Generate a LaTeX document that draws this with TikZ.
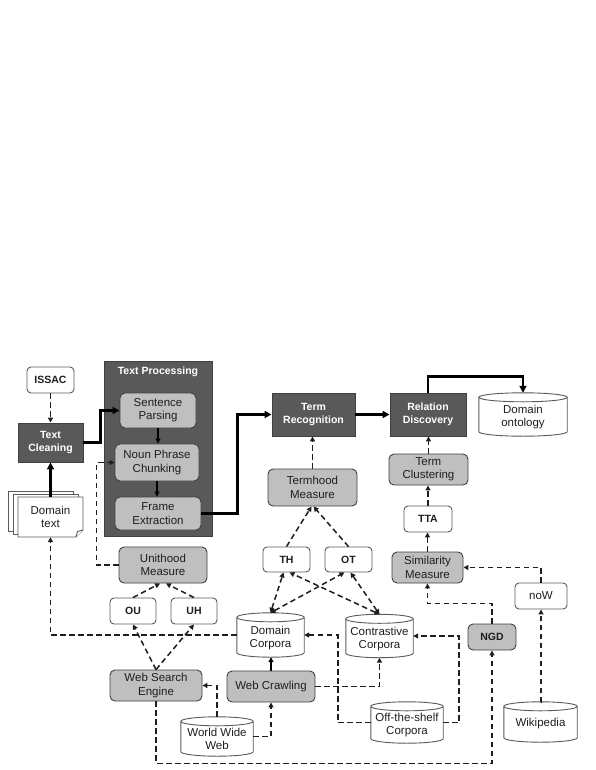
\documentclass[tikz,border=0pt]{standalone}
\usepackage{fontspec}
\setmainfont{Liberation Sans}
\usetikzlibrary{arrows.meta,backgrounds,calc}
\definecolor{darkbox}{HTML}{595959}
\definecolor{lightbox}{HTML}{BFBFBF}
\definecolor{edgec}{HTML}{404040}
\definecolor{wedge}{HTML}{5A5A5A}
\definecolor{lnc}{HTML}{1E1E1E}
\newcommand\drawcyl[1]{%
  \filldraw[cylsty] let \p1=(#1.north west), \p2=(#1.north east), \n1={(\x2-\x1)/2} in
    ([yshift=-4.5pt]#1.north west) -- ([yshift=4.5pt]#1.south west)
    arc[start angle=180,end angle=360,x radius=\n1,y radius=4.5pt]
    -- ([yshift=-4.5pt]#1.north east)
    arc[start angle=0,end angle=180,x radius=\n1,y radius=4.5pt] -- cycle;
  \draw[cylsty] let \p1=(#1.north west), \p2=(#1.north east), \n1={(\x2-\x1)/2} in
    ([yshift=-4.5pt]#1.north east)
    arc[start angle=0,end angle=-180,x radius=\n1,y radius=4.5pt];
}
\begin{document}
\begin{tikzpicture}[x=1pt,y=-1pt,
  base/.style={align=center, inner sep=1pt, font=\fontsize{11.5}{13.3}\selectfont, text=lnc},
  darkb/.style={base, draw=edgec, fill=darkbox, text=white, font=\bfseries\fontsize{10.5}{13}\selectfont, line width=0.9pt},
  greyb/.style={base, draw=edgec, fill=lightbox, rounded corners=5pt, line width=0.9pt},
  whiteb/.style={base, draw=wedge, fill=white, rounded corners=4pt, line width=0.9pt},
  shortb/.style={whiteb, font=\bfseries\fontsize{10.5}{13}\selectfont},
  cylshape/.style={inner sep=0pt},
  cyltext/.style={base},
  cylsty/.style={draw=wedge, fill=white, line width=0.9pt},
  pagesty/.style={draw=wedge, fill=white, line width=0.9pt},
  thk/.style={line width=2.5pt, draw=black, -{Triangle[length=7pt,width=7pt]}},
  thn/.style={line width=1.1pt, draw=black, -{Triangle[length=5pt,width=5pt]}},
  dsh/.style={line width=1.5pt, draw=lnc, dash pattern=on 5.5pt off 3.5pt, -{Triangle[length=5pt,width=5pt]}},
  dshb/.style={line width=1.5pt, draw=lnc, dash pattern=on 5.5pt off 3.5pt, {Triangle[length=5pt,width=5pt]}-{Triangle[length=5pt,width=5pt]}}
]
\useasboundingbox (0,0) rectangle (595,770);

% Text processing container
\node[draw=edgec, fill=darkbox, line width=0.9pt, minimum width=108pt, minimum height=175pt, inner sep=0pt] (tp) at (158,448.5) {};
\node[base, text=white, font=\bfseries\fontsize{10.5}{13}\selectfont] (tpt) at (158,372) {Text Processing};
\node[greyb, minimum width=76pt, minimum height=35pt] (sp) at (158,410.5) {Sentence\\Parsing};
\node[greyb, minimum width=84pt, minimum height=37pt] (npc) at (157,462.5) {Noun Phrase\\Chunking};
\node[greyb, minimum width=86pt, minimum height=33pt] (fe) at (158,513.5) {Frame\\Extraction};

% left column
\node[shortb, minimum width=47pt, minimum height=26pt] (issac) at (50.5,380) {ISSAC};
\node[darkb, minimum width=65pt, minimum height=39pt] (clean) at (50.5,442.5) {Text\\Cleaning};
\node[base, minimum width=65pt, minimum height=40pt] (dt) at (50.5,517) {Domain\\text};

% top row
\node[darkb, minimum width=83pt, minimum height=43pt] (tr) at (313.5,414.5) {Term\\Recognition};
\node[darkb, minimum width=76pt, minimum height=43pt] (rd) at (428,414.5) {Relation\\Discovery};
\node[cylshape, minimum width=88pt, minimum height=43pt] (onto) at (523,414.5) {};
\node[cyltext] (ontol) at (523,417) {Domain\\ontology};

% middle
\node[greyb, minimum width=89pt, minimum height=37pt] (tm) at (312.5,487.5) {Termhood\\Measure};
\node[greyb, minimum width=79pt, minimum height=31pt] (tc) at (428.5,469.5) {Term\\Clustering};
\node[shortb, minimum width=48pt, minimum height=26pt] (tta) at (428,519) {TTA};
\node[greyb, minimum width=71pt, minimum height=31pt] (sm) at (427.5,567.5) {Similarity\\Measure};
\node[whiteb, minimum width=52pt, minimum height=26pt] (now) at (541,596) {noW};
\node[greyb, font=\bfseries\fontsize{10.5}{13}\selectfont, minimum width=48pt, minimum height=26pt] (ngd) at (492,637) {NGD};
\node[shortb, minimum width=47pt, minimum height=25pt] (th) at (286.5,559.5) {TH};
\node[shortb, minimum width=47pt, minimum height=25pt] (ot) at (348.5,559.5) {OT};
\node[greyb, minimum width=88pt, minimum height=36pt] (um) at (163,565) {Unithood\\Measure};
\node[shortb, minimum width=46pt, minimum height=26pt] (ou) at (133,611) {OU};
\node[shortb, minimum width=46pt, minimum height=26pt] (uh) at (194,611) {UH};

% corpora and sources
\node[cylshape, minimum width=67pt, minimum height=44pt] (dc) at (270.5,635) {};
\node[cyltext] (dcl) at (270.5,638) {Domain\\Corpora};
\node[cylshape, minimum width=67pt, minimum height=43pt] (cc) at (379.5,636) {};
\node[cyltext] (ccl) at (379.5,639) {Contrastive\\Corpora};
\node[greyb, minimum width=92pt, minimum height=31pt] (wse) at (156,685.5) {Web Search\\Engine};
\node[greyb, minimum width=88pt, minimum height=31pt] (wc) at (271,686.5) {Web Crawling};
\node[cylshape, minimum width=72pt, minimum height=39pt] (www) at (217,736.5) {};
\node[cyltext] (wwwl) at (217,739) {World Wide\\Web};
\node[cylshape, minimum width=72pt, minimum height=41pt] (ots) at (407,722.5) {};
\node[cyltext] (otsl) at (407,725) {Off-the-shelf\\Corpora};
\node[cylshape, minimum width=73pt, minimum height=40pt] (wiki) at (540.5,722) {};
\node[cyltext] (wikil) at (540.5,724) {Wikipedia};

\begin{scope}[on background layer]
  \drawcyl{onto}
  \drawcyl{dc}
  \drawcyl{cc}
  \drawcyl{www}
  \drawcyl{ots}
  \drawcyl{wiki}
  % stacked document pages
  \filldraw[pagesty] (8,491) rectangle (73,531);
  \filldraw[pagesty] (13,494) rectangle (78,534);
  \filldraw[pagesty] (18,497) -- (83,497) -- (83,530) -- (76,537) -- (18,537) -- cycle;
  \draw[pagesty] (76,537) -- (77.5,531.5) -- (83,530);
\end{scope}

% solid connectors
\draw[thk] (dt.north) -- (clean.south);
\draw[thk] (clean.east) -- ++(17,0) |- (sp.west);
\draw[thn] (sp.south) -- (sp.south |- npc.north);
\draw[thn] (npc.south) -- (npc.south |- fe.north);
\draw[thk] (fe.east) -- ++(36,0) |- (tr.west);
\draw[thk] (tr.east) -- (rd.west);
\draw[thk] (rd.north) -- ++(0,-16) -| (onto.north);
\draw[thn] (wc.north) -- (wc.north |- dc.south);

% dashed connectors
\draw[dsh] (issac.south) -- (clean.north);
\draw[dsh] (dc.west) -| (dt.south);
\draw[dsh] (um.west) -- ++(-22,0) |- (npc.west);
\draw[dsh] (ou.north) -- ([xshift=-3pt]um.south);
\draw[dsh] (uh.north) -- ([xshift=3pt]um.south);
\draw[dsh] (wse.north) -- (ou.south);
\draw[dsh] (wse.north) -- (uh.south);
\draw[dsh] (www.north) |- (wse.east);
\draw[dsh] (www.east) -| (wc.south);
\draw[dsh] (wc.east) -| (cc.south);
\draw[dsh] (ots.west) -- ++(-33,0) |- (dc.east);
\draw[dsh] (ots.east) -- ++(16,0) |- (cc.east);
\draw[dshb] (dc.north) -- ([xshift=-3pt]th.south);
\draw[dshb] (dc.north) -- ([xshift=-4pt]ot.south);
\draw[dshb] (cc.north) -- ([xshift=3pt]th.south);
\draw[dshb] (cc.north) -- ([xshift=2pt]ot.south);
\draw[dsh] (th.north) -- ([xshift=-1pt]tm.south);
\draw[dsh] (ot.north) -- ([xshift=1pt]tm.south);
\draw[dsh] (tm.north) -- (tm.north |- tr.south);
\draw[dsh] (tc.north) -- (tc.north |- rd.south);
\draw[dsh] (tta.north) -- (tta.north |- tc.south);
\draw[dsh] (sm.north) -- (sm.north |- tta.south);
\draw[dsh] (now.north) |- (sm.east);
\draw[dsh] (ngd.north) -- ++(0,-20) -| (sm.south);
\draw[dsh] (wiki.north) -- (wiki.north -| now.south) -- (now.south);
\draw[dsh] (wse.south) -- ++(0,62) -| (ngd.south);
\end{tikzpicture}
\end{document}
